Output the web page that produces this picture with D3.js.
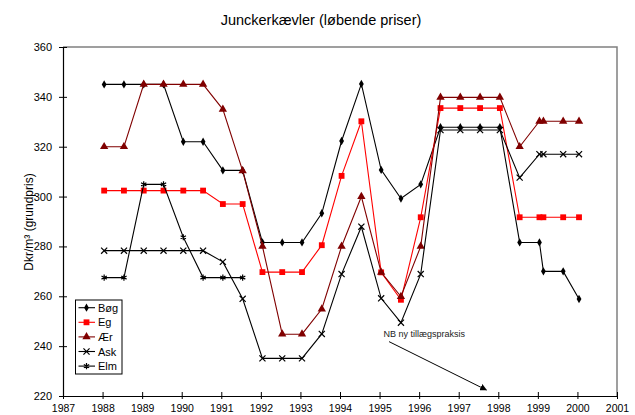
<!DOCTYPE html>
<html>
<script src='https://d3js.org/d3.v7.min.js'></script>
<style>
body {margin: 0; background: white;}
text {font-family: 'Liberation Sans', Arial, sans-serif;}
</style>
<body onload='init()'>
<script>
// half-yearly observations (decimal year)
var years = [1988.04, 1988.54, 1989.04, 1989.54, 1990.04, 1990.54, 1991.04, 1991.54,
  1992.04, 1992.54, 1993.04, 1993.54, 1994.04, 1994.54, 1995.04, 1995.54, 1996.04,
  1996.54, 1997.04, 1997.54, 1998.04, 1998.54, 1999.04, 1999.14, 1999.64, 2000.04];

var bog = [345, 345, 345, 345, 322, 322, 310.5, 310.5, 281.6, 281.6, 281.6, 293.3, 322.3,
  345.2, 310.7, 299.2, 304.9, 327.8, 327.8, 327.8, 327.8, 281.6, 281.6, 270, 270, 258.9];
var eg = [302.4, 302.4, 302.4, 302.4, 302.4, 302.4, 297, 297, 269.7, 269.7, 269.7, 280.5, 308.3,
  330.2, 269.6, 258.6, 291.7, 335.5, 335.5, 335.5, 335.5, 291.7, 291.7, 291.7, 291.7, 291.7];
var aer = [320, 320, 345, 345, 345, 345, 335, 310.3, 280, 244.8, 244.8, 254.9, 280,
  300, 269.6, 259.9, 280, 339.8, 339.8, 339.8, 339.8, 320, 330.2, 330.2, 330.2, 330.2];
var ask = [278.3, 278.3, 278.3, 278.3, 278.3, 278.3, 273.8, 259, 235.1, 235.1, 235.1, 244.9, 268.9,
  287.9, 259.2, 249.4, 268.9, 326.7, 326.7, 326.7, 326.7, 307.6, 317, 317, 317, 317];
var elm = [267.5, 267.5, 304.9, 304.9, 283.7, 267.5, 267.5, 267.5];

var xTicks = d3.range(1987, 2002);
var yTicks = [220, 240, 260, 280, 300, 320, 340, 360];

var series = [
  {name: 'Bøg', values: bog, color: 'black', symbol: 'diamond'},
  {name: 'Eg', values: eg, color: '#ff0000', symbol: 'square'},
  {name: 'Ær', values: aer, color: '#800000', symbol: 'triangle'},
  {name: 'Ask', values: ask, color: 'black', symbol: 'cross'},
  {name: 'Elm', values: elm, color: 'black', symbol: 'star'}
];

function init() {
  var svg = d3.select('body').append('svg')
    .attr('width', 635)
    .attr('height', 415);

  var x = d3.scaleLinear().domain([1987, 2001]).range([63, 617]);
  var y = d3.scaleLinear().domain([220, 360]).range([396, 47]);

  // title
  svg.append('text')
    .attr('x', 321)
    .attr('y', 25)
    .attr('text-anchor', 'middle')
    .style('font-size', '14.5px')
    .text('Junckerkævler (løbende priser)');

  // y axis label
  svg.append('text')
    .attr('transform', 'translate(33,222)rotate(-90)')
    .attr('text-anchor', 'middle')
    .style('font-size', '12px')
    .text('Dkr/m³ (grundpris)');

  // frame (top and right)
  svg.append('path')
    .attr('d', 'M' + x(1987) + ',' + y(360) + 'H' + x(2001) + 'V' + y(220))
    .attr('fill', 'none')
    .attr('stroke', '#808080')
    .attr('stroke-width', 1.5);

  var yAxis = svg.append('g')
    .attr('transform', 'translate(' + x(1987) + ',0)')
    .call(d3.axisLeft(y).tickValues(yTicks).tickSize(4).tickPadding(7).tickSizeOuter(0));
  yAxis.selectAll('.tick line').attr('x1', -4).attr('x2', 4);
  yAxis.selectAll('text').style('font-size', '11px').attr('fill', 'black');

  var xAxis = svg.append('g')
    .attr('transform', 'translate(0,' + y(220) + ')')
    .call(d3.axisBottom(x).tickValues(xTicks).tickFormat(d3.format('d')).tickSize(4).tickPadding(5).tickSizeOuter(0));
  xAxis.selectAll('.tick line').attr('y1', -4).attr('y2', 3);
  xAxis.selectAll('text').style('font-size', '10.5px').attr('fill', 'black');
  svg.selectAll('.domain').attr('stroke', 'black').attr('stroke-width', 1.2);

  var line = d3.line()
    .x(function(d) { return x(d.t); })
    .y(function(d) { return y(d.v); });

  var symbols = {
    diamond: d3.symbol().type(d3.symbolDiamond).size(20),
    square: d3.symbol().type(d3.symbolSquare).size(34),
    triangle: d3.symbol().type(d3.symbolTriangle).size(30),
    cross: d3.symbol().type(d3.symbolTimes).size(26),
    star: d3.symbol().type(d3.symbolAsterisk).size(26)
  };

  function drawMarker(g, s) {
    var p = g.append('path').attr('d', symbols[s.symbol]());
    if (s.symbol == 'cross' || s.symbol == 'star') {
      p.attr('fill', 'none').attr('stroke', s.color).attr('stroke-width', 1.2);
    } else {
      p.attr('fill', s.color).attr('stroke', 'none');
    }
  }

  series.forEach(function(s) {
    var pts = s.values.map(function(v, i) { return {t: years[i], v: v}; });
    svg.append('path')
      .datum(pts)
      .attr('fill', 'none')
      .attr('stroke', s.color)
      .attr('stroke-width', 1.1)
      .attr('d', line);
    svg.append('g').selectAll('g')
      .data(pts)
      .enter()
      .append('g')
      .attr('transform', function(d) { return 'translate(' + x(d.t) + ',' + y(d.v) + ')'; })
      .each(function() { drawMarker(d3.select(this), s); });
  });

  // annotation
  svg.append('text')
    .attr('x', x(1995.1))
    .attr('y', 337)
    .style('font-size', '9px')
    .attr('fill', '#222')
    .text('NB ny tillægspraksis');

  svg.append('defs').append('marker')
    .attr('id', 'arrow')
    .attr('viewBox', '0 0 10 10')
    .attr('refX', 9).attr('refY', 5)
    .attr('markerWidth', 7).attr('markerHeight', 7)
    .attr('orient', 'auto')
    .append('path')
    .attr('d', 'M0,0L10,5L0,10z')
    .attr('fill', 'black');

  svg.append('line')
    .attr('x1', x(1995.24)).attr('y1', y(241.8))
    .attr('x2', x(1997.7)).attr('y2', y(222.4))
    .attr('stroke', 'black')
    .attr('stroke-width', 1)
    .attr('marker-end', 'url(#arrow)');

  // legend
  var lg = svg.append('g').attr('transform', 'translate(75.5,300)');
  lg.append('rect')
    .attr('width', 46.5).attr('height', 74)
    .attr('fill', 'white')
    .attr('stroke', 'black')
    .attr('stroke-width', 1);
  series.forEach(function(s, i) {
    var row = lg.append('g').attr('transform', 'translate(0,' + (7.7 + i * 14.6) + ')');
    row.append('line')
      .attr('x1', 3).attr('x2', 19.5)
      .attr('stroke', s.color).attr('stroke-width', 1.1);
    drawMarker(row.append('g').attr('transform', 'translate(11,0)'), s);
    row.append('text')
      .attr('x', 22.5).attr('y', 4)
      .style('font-size', '11px')
      .text(s.name);
  });
}
</script>
</body>
</html>
